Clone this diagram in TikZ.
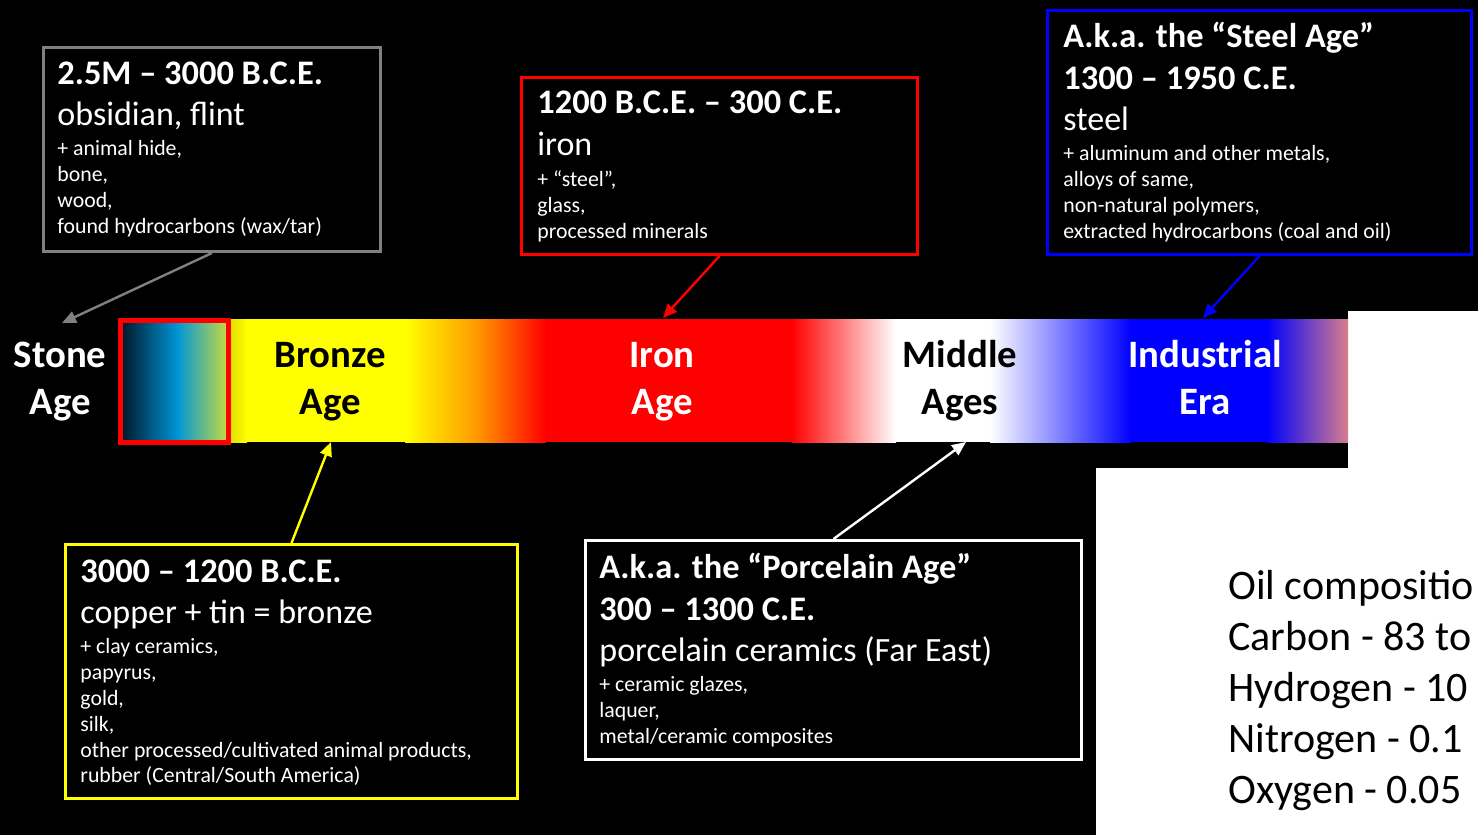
\documentclass[tikz,border=0pt]{standalone}
\usepackage{fontspec}
\setmainfont{Carlito}
\usetikzlibrary{arrows.meta}

\definecolor{boxgray}{RGB}{128,128,128}
\definecolor{pureRed}{RGB}{255,0,0}
\definecolor{pureBlue}{RGB}{0,0,255}
\definecolor{pureYellow}{RGB}{255,255,0}
\definecolor{stoneDark}{RGB}{0,15,30}
\definecolor{stoneBlue}{RGB}{0,150,215}
\definecolor{stoneLime}{RGB}{215,225,50}
\definecolor{bronzeDim}{RGB}{225,225,0}
\definecolor{bronzeOrange}{RGB}{255,150,0}
\definecolor{eraPink}{RGB}{215,125,140}

\tikzset{
  hd/.style={anchor=base west, inner sep=0pt, text=white, font=\fontsize{17.2}{20}\selectfont\bfseries},
  md/.style={anchor=base west, inner sep=0pt, text=white, font=\fontsize{17}{20}\selectfont},
  sm/.style={anchor=base west, inner sep=0pt, text=white, font=\fontsize{10.9}{13}\selectfont},
  oil/.style={anchor=base west, inner sep=0pt, text=black, font=\fontsize{21}{25}\selectfont},
  eralbl/.style={anchor=base, inner sep=0pt, font=\fontsize{19.4}{22}\selectfont\bfseries},
  infobox/.style={draw, line width=1.5pt, fill=black, inner sep=0pt, anchor=north west},
  conn/.style={line width=1.2pt, -{Triangle[length=7pt,width=6pt]}}
}

\begin{document}
\begin{tikzpicture}[x=0.5pt,y=-0.5pt]
\useasboundingbox (0,0) rectangle (1478,835);
\clip (0,0) rectangle (1478,835);

% background
\fill[black] (0,0) rectangle (1478,835);
\fill[white] (1348,311) -- (1478,311) -- (1478,835) -- (1096,835) -- (1096,468) -- (1348,468) -- cycle;

% timeline bar, left to right
\shade[left color=stoneDark, right color=stoneBlue] (118,319) rectangle (178,442);
\shade[left color=stoneBlue, right color=stoneLime] (177,319) rectangle (232,442);
\shade[left color=bronzeDim, right color=pureYellow] (231,319) rectangle (247,442);
\fill[pureYellow] (246,319) rectangle (406,442);
\shade[left color=pureYellow, right color=bronzeOrange] (405,319) rectangle (479,442);
\shade[left color=bronzeOrange, right color=pureRed] (478,319) rectangle (546,442);
\fill[pureRed] (545,319) rectangle (793,442);
\shade[left color=pureRed, right color=white] (792,319) rectangle (896,442);
\fill[white] (895,319) rectangle (991,442);
\shade[left color=white, right color=pureBlue] (990,319) rectangle (1131,442);
\fill[pureBlue] (1130,319) rectangle (1268,442);
\shade[left color=pureBlue, right color=eraPink] (1267,319) rectangle (1348,442);
\draw[pureRed, line width=2.5pt] (120.5,320.5) rectangle (228.5,442.5);

% era labels on the bar
\node[eralbl, text=white] (stoneA) at (60,367) {Stone};
\node[eralbl, text=white] (stoneB) at (60,414) {Age};
\node[eralbl, text=black] (bronzeA) at (330,367) {Bronze};
\node[eralbl, text=black] (bronzeB) at (330,414) {Age};
\node[eralbl, text=white] (ironA) at (662,367) {Iron};
\node[eralbl, text=white] (ironB) at (662,414) {Age};
\node[eralbl, text=black] (middleA) at (960,367) {Middle};
\node[eralbl, text=black] (middleB) at (960,414) {Ages};
\node[eralbl, text=white] (indA) at (1205,367) {Industrial};
\node[eralbl, text=white] (indB) at (1205,414) {Era};

% arrow targets
\coordinate (stoneTip) at (62,323);
\coordinate (ironTip) at (663,318);
\coordinate (steelTip) at (1203,318);
\coordinate (bronzeTip) at (331,442);
\coordinate (middleTip) at (966,442);

% Stone Age box
\node[infobox, draw=boxgray, minimum width=168.5pt, minimum height=102pt] (stonebox) at (42,46) {};
\node[hd] (s1) at (57,84) {2.5M – 3000 B.C.E.};
\node[md] (s2) at (57,125) {obsidian, flint};
\node[sm] (s3) at (57,155) {+ animal hide,};
\node[sm] (s4) at (57,181) {bone,};
\node[sm] (s5) at (57,207) {wood,};
\node[sm] (s6) at (57,233) {found hydrocarbons (wax/tar)};

% Iron Age box
\node[infobox, draw=pureRed, minimum width=198pt, minimum height=88.5pt] (ironbox) at (520,76) {};
\node[hd] (i1) at (537,113) {1200 B.C.E. – 300 C.E.};
\node[md] (i2) at (537,155) {iron};
\node[sm] (i3) at (537,186) {+ “steel”,};
\node[sm] (i4) at (537,212) {glass,};
\node[sm] (i5) at (537,238) {processed minerals};

% Industrial Era box
\node[infobox, draw=pureBlue, minimum width=212pt, minimum height=122pt] (steelbox) at (1046,9) {};
\node[hd] (t1) at (1063,47) {A.k.a. the “Steel Age”};
\node[hd] (t2) at (1063,89) {1300 – 1950 C.E.};
\node[md] (t3) at (1063,130) {steel};
\node[sm] (t4) at (1063,160) {+ aluminum and other metals,};
\node[sm] (t5) at (1063,186) {alloys of same,};
\node[sm] (t6) at (1063,212) {non-natural polymers,};
\node[sm] (t7) at (1063,238) {extracted hydrocarbons (coal and oil)};

% Bronze Age box
\node[infobox, draw=pureYellow, minimum width=226pt, minimum height=127pt] (bronzebox) at (64,543) {};
\node[hd] (b1) at (80,582) {3000 – 1200 B.C.E.};
\node[md] (b2) at (80,623) {copper + tin = bronze};
\node[sm] (b3) at (80,653) {+ clay ceramics,};
\node[sm] (b4) at (80,679) {papyrus,};
\node[sm] (b5) at (80,705) {gold,};
\node[sm] (b6) at (80,731) {silk,};
\node[sm] (b7) at (80,757) {other processed/cultivated animal products,};
\node[sm] (b8) at (80,782) {rubber (Central/South America)};

% Middle Ages box
\node[infobox, draw=white, minimum width=248pt, minimum height=109.5pt] (porcbox) at (584,539) {};
\node[hd] (p1) at (599,578) {A.k.a. the “Porcelain Age”};
\node[hd] (p2) at (599,620) {300 – 1300 C.E.};
\node[md] (p3) at (599,661) {porcelain ceramics (Far East)};
\node[sm] (p4) at (599,691) {+ ceramic glazes,};
\node[sm] (p5) at (599,717) {laquer,};
\node[sm] (p6) at (599,743) {metal/ceramic composites};

% connectors
\draw[conn, boxgray] (stonebox.south) -- (stoneTip);
\draw[conn, pureRed] (ironbox.south) -- (ironTip);
\draw[conn, pureBlue] (steelbox.south) -- (steelTip);
\draw[conn, pureYellow] (bronzebox.north) -- (bronzeTip);
\draw[conn, white] (porcbox.north) -- (middleTip);

% oil composition note
\node[oil] (o1) at (1228,599) {Oil compositio};
\node[oil] (o2) at (1228,650) {Carbon - 83 to};
\node[oil] (o3) at (1228,701) {Hydrogen - 10};
\node[oil] (o4) at (1228,752) {Nitrogen - 0.1};
\node[oil] (o5) at (1228,803) {Oxygen - 0.05};
\end{tikzpicture}
\end{document}
